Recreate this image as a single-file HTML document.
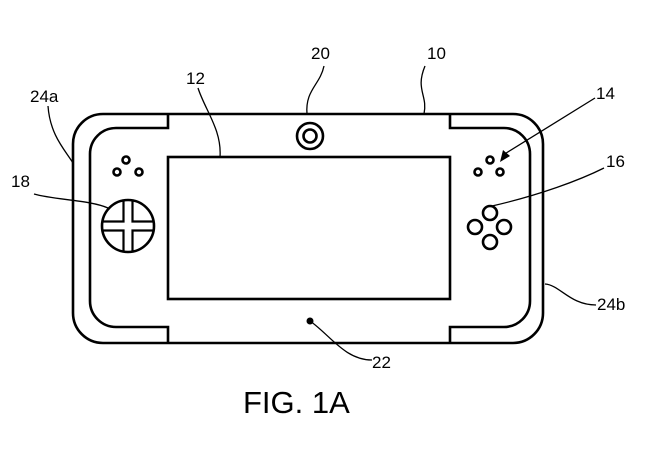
<!DOCTYPE html>
<html><head><style>
html,body{margin:0;padding:0;background:#fff;}
svg{display:block;}
text{font-family:"Liberation Sans",sans-serif;fill:#000;}
</style></head><body>
<svg width="654" height="451" viewBox="0 0 654 451" xmlns="http://www.w3.org/2000/svg">
<g fill="none" stroke="#000" stroke-width="2.6">
<rect x="73" y="114" width="470" height="229" rx="30" ry="30"/>
<path d="M168,114 V128 H116 A26,26 0 0 0 90,154 V301 A26,26 0 0 0 116,327 H168 V343"/>
<path d="M450,114 V128 H504 A26,26 0 0 1 530,154 V301 A26,26 0 0 1 504,327 H450 V343"/>
<rect x="168" y="157" width="282" height="142"/>
<circle cx="310" cy="136" r="13"/>
<circle cx="310" cy="136" r="6.5"/>
<circle cx="126" cy="160" r="3.5"/>
<circle cx="117" cy="172" r="3.5"/>
<circle cx="139" cy="172" r="3.5"/>
<circle cx="490" cy="160" r="3.5"/>
<circle cx="478" cy="172" r="3.5"/>
<circle cx="500" cy="172" r="3.5"/>
<circle cx="128" cy="226" r="26"/>
<path d="M123.5,201 V221.5 H103 M132.5,201 V221.5 H153 M103,230.5 H123.5 V251 M153,230.5 H132.5 V251" stroke-width="2.2"/>
<circle cx="490" cy="213" r="7"/>
<circle cx="475" cy="227" r="7"/>
<circle cx="504" cy="227" r="7"/>
<circle cx="490" cy="242" r="7"/>
</g>
<circle cx="310" cy="321" r="3.5" fill="#000"/>
<g fill="none" stroke="#000" stroke-width="1.3">
<path d="M324,66 C320,85 305,90 307,114"/>
<path d="M425,66 C415,90 428,95 424,114"/>
<path d="M198,88 C205,110 222,130 220,157"/>
<path d="M48,106 C50,135 65,150 73,163"/>
<path d="M34,194 C55,200 90,200 108,208"/>
<path d="M595,98 L503,155"/>
<path d="M604,168 C580,180 540,195 492,206"/>
<path d="M596,305 C570,305 560,285 545,284"/>
<path d="M310,321 C330,335 345,360 372,360"/>
</g>
<path d="M500,162 L503,150 L510,156 Z" fill="#000"/>
<text x="311" y="59" font-size="17">20</text>
<text x="427" y="59" font-size="17">10</text>
<text x="186" y="84" font-size="17">12</text>
<text x="30" y="102" font-size="17">24a</text>
<text x="11" y="187" font-size="17">18</text>
<text x="596" y="99" font-size="17">14</text>
<text x="606" y="167" font-size="17">16</text>
<text x="597" y="310" font-size="17">24b</text>
<text x="372" y="368" font-size="17">22</text>
<text x="243" y="413" font-size="31">FIG. 1A</text>
</svg>
</body></html>
